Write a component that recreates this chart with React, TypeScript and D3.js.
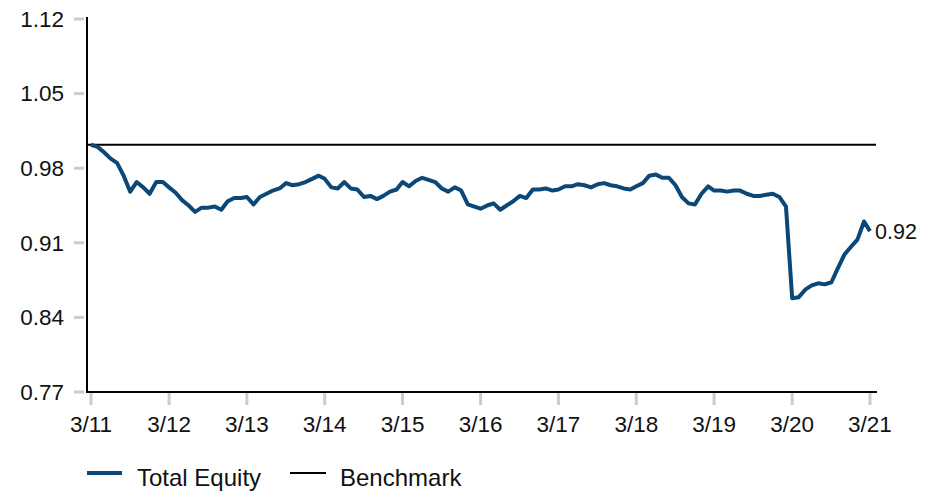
import React from "react";
import * as d3 from "d3";

const startMonth = new Date(2011, 2, 1);
const totalEquity = [
  1.000, 0.998, 0.993, 0.987, 0.983, 0.971, 0.956, 0.965, 0.960, 0.954, 0.965, 0.965,
  0.960, 0.955, 0.948, 0.943, 0.937, 0.941, 0.941, 0.942, 0.939, 0.947, 0.950, 0.950,
  0.951, 0.944, 0.951, 0.954, 0.957, 0.959, 0.964, 0.962, 0.963, 0.965, 0.968, 0.971,
  0.968, 0.960, 0.959, 0.965, 0.959, 0.958, 0.951, 0.952, 0.949, 0.952, 0.956, 0.958,
  0.965, 0.961, 0.966, 0.969, 0.967, 0.965, 0.959, 0.956, 0.960, 0.957, 0.944, 0.942,
  0.940, 0.943, 0.945, 0.939, 0.943, 0.947, 0.952, 0.950, 0.958, 0.958, 0.959, 0.957,
  0.958, 0.961, 0.961, 0.963, 0.962, 0.960, 0.963, 0.964, 0.962, 0.961, 0.959, 0.958,
  0.961, 0.964, 0.971, 0.972, 0.969, 0.969, 0.962, 0.951, 0.945, 0.944, 0.954, 0.961,
  0.957, 0.957, 0.956, 0.957, 0.957, 0.954, 0.952, 0.952, 0.953, 0.954, 0.951, 0.942,
  0.856, 0.857, 0.864, 0.868, 0.870, 0.869, 0.871, 0.884, 0.897, 0.904, 0.911, 0.928,
  0.919,
];
const benchmarkValue = 1.0;
const xTickLabels = ["3/11", "3/12", "3/13", "3/14", "3/15", "3/16", "3/17", "3/18", "3/19", "3/20", "3/21"];
const yTickLabels = ["0.77", "0.84", "0.91", "0.98", "1.05", "1.12"];
const legendLabels = ["Total Equity", "Benchmark"];

const W = 935;
const H = 492;
const FONT = "'Liberation Sans', Arial, sans-serif";
const BLUE = "#0b4777";
const TICK = "#c9cdd1";

export default function App() {
  const dates = totalEquity.map((_, i) => d3.timeMonth.offset(startMonth, i));
  const x = d3.scaleTime().domain([dates[0], dates[dates.length - 1]]).range([91, 870]);
  const yMin = 0.768;
  const yStep = 0.07;
  const y = d3.scaleLinear().domain([yMin, yMin + yStep * 5]).range([392, 19]);
  const yTicks = yTickLabels.map((l, i) => ({ label: l, v: yMin + yStep * i }));
  const xTicks = xTickLabels.map((l, i) => ({ label: l, d: d3.timeYear.offset(startMonth, i) }));

  const line = d3
    .line<number>()
    .x((_, i) => x(dates[i]))
    .y((v) => y(v))
    .curve(d3.curveLinear);

  const last = totalEquity[totalEquity.length - 1];
  const lastX = x(dates[dates.length - 1]);

  return (
    <svg
      width={W}
      height={H}
      style={{ position: "absolute", left: 0, top: 0, background: "#fff" }}
      fontFamily={FONT}
    >
      {/* y ticks */}
      {yTicks.map((t) => (
        <g key={t.label}>
          <line x1={74} x2={84} y1={y(t.v)} y2={y(t.v)} stroke={TICK} strokeWidth={3} />
          <text x={64} y={y(t.v)} dy="0.35em" textAnchor="end" fontSize={22.5} fill="#111">
            {t.label}
          </text>
        </g>
      ))}
      {/* x ticks */}
      {xTicks.map((t) => (
        <g key={t.label}>
          <line x1={x(t.d)} x2={x(t.d)} y1={393} y2={405} stroke={TICK} strokeWidth={3} />
          <text x={x(t.d)} y={432} textAnchor="middle" fontSize={22.5} fill="#111">
            {t.label}
          </text>
        </g>
      ))}
      {/* axes */}
      <line x1={87} x2={87} y1={17} y2={393} stroke="#000" strokeWidth={2} />
      <line x1={86} x2={877} y1={392} y2={392} stroke="#000" strokeWidth={2} />
      {/* benchmark */}
      <line x1={87} x2={876} y1={y(benchmarkValue)} y2={y(benchmarkValue)} stroke="#000" strokeWidth={2} />
      {/* total equity */}
      <path d={line(totalEquity) || ""} fill="none" stroke={BLUE} strokeWidth={4} strokeLinejoin="round" />
      <text x={lastX + 5} y={y(last)} dy="0.35em" fontSize={21.5} fill="#111">
        {d3.format(".2f")(last)}
      </text>
      {/* legend */}
      <line x1={87} x2={122} y1={473} y2={473} stroke={BLUE} strokeWidth={4} />
      <text x={137} y={486} fontSize={24} fill="#111">
        {legendLabels[0]}
      </text>
      <line x1={290} x2={326} y1={473} y2={473} stroke="#000" strokeWidth={2} />
      <text x={340} y={486} fontSize={24} fill="#111">
        {legendLabels[1]}
      </text>
    </svg>
  );
}
